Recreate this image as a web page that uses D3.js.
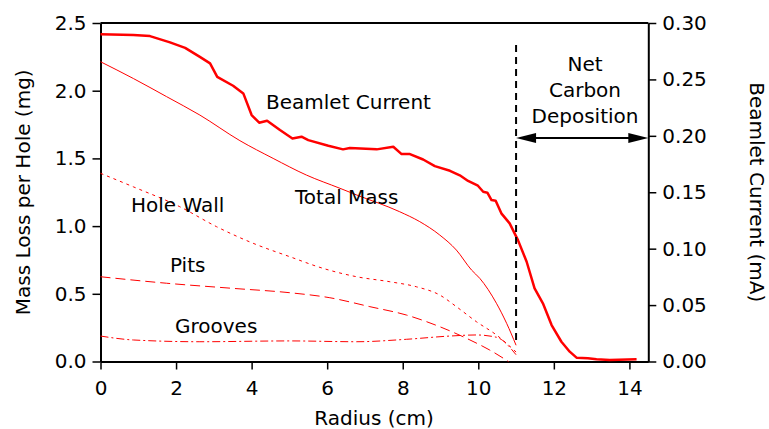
<!DOCTYPE html>
<html><head><meta charset="utf-8">
<script src="https://cdn.jsdelivr.net/npm/d3@7"></script>
<style>body{margin:0;background:#fff}svg{display:block}text{font-family:"DejaVu Sans",sans-serif;}</style>
</head><body>
<svg id="c" width="769" height="429"></svg>
<script>
// Beamlet current (mA) vs radius (cm)
const beamR = [0,0.87,1.31,1.84,2.24,2.63,2.90,3.09,3.51,3.78,4.0,4.2,4.41,4.75,5.08,5.32,5.50,6.03,6.42,6.60,7.31,7.75,7.97,8.19,8.54,8.85,9.25,9.51,9.73,9.99,10.13,10.24,10.35,10.46,10.61,10.83,11.05,11.28,11.49,11.71,11.94,12.2,12.42,12.6,12.9,13.13,13.48,14.19];
const beamI = [0.290,0.2893,0.2884,0.2828,0.278,0.270,0.2642,0.2523,0.2444,0.2376,0.2184,0.2116,0.2134,0.2051,0.1977,0.1992,0.1962,0.1912,0.188,0.1892,0.188,0.1903,0.1838,0.1838,0.179,0.1732,0.169,0.165,0.160,0.1558,0.1504,0.1496,0.1431,0.1425,0.1313,0.1224,0.1076,0.0884,0.0648,0.0516,0.0323,0.0175,0.0087,0.0034,0.0028,0.002,0.0013,0.002];
// Total mass (mg)
const totalR = [0,0.87,1.75,2.63,3.69,4.57,5.45,6.34,6.78,7.92,8.45,8.98,9.42,9.82,10.04,10.48,10.75,11.0];
const totalM = [2.214,2.09,1.956,1.82,1.631,1.50,1.377,1.279,1.23,1.106,1.033,0.934,0.823,0.676,0.614,0.43,0.282,0.12];
// Hole wall (mg)
const wallR = [0,0.87,2.10,3.07,4.04,5.01,5.89,6.78,7.66,8.36,8.98,9.42,9.95,10.48,11.0];
const wallM = [1.39,1.29,1.143,0.996,0.873,0.774,0.688,0.626,0.589,0.552,0.491,0.405,0.294,0.196,0.07];
// Pits (mg)
const pitsR = [0,1.75,3.51,5.01,6.07,7.13,8.1,8.98,9.78,10.3,10.8];
const pitsM = [0.626,0.578,0.54,0.508,0.471,0.405,0.343,0.257,0.159,0.085,0.0];
// Grooves (mg)
const grooveR = [0,0.87,2.63,5.01,6.78,8.1,9.25,9.95,10.48,11.0];
const grooveM = [0.188,0.159,0.146,0.152,0.146,0.164,0.188,0.196,0.179,0.05];

const leftTicks = [0,0.5,1.0,1.5,2.0,2.5];
const rightTicks = [0,0.05,0.10,0.15,0.20,0.25,0.30];
const xTicks = [0,2,4,6,8,10,12,14];
const depositionR = 11.0;

const svg = d3.select("#c");
const L = 100.5, R = 648.3, T = 23, B = 361.5;
const x = d3.scaleLinear().domain([0,14.5]).range([L,R]);
const yL = d3.scaleLinear().domain([0,2.5]).range([B,T]);
const yR = d3.scaleLinear().domain([0,0.30]).range([B,T]);
const fs = 20;

// frame top
svg.append("line").attr("x1",L).attr("x2",R).attr("y1",T).attr("y2",T).attr("stroke","#000").attr("stroke-width",2);

function styleAxis(g){
  g.select(".domain").attr("stroke","#000").attr("stroke-width",2);
  g.selectAll(".tick line").attr("stroke","#000").attr("stroke-width",1.5);
  g.selectAll(".tick text").attr("font-family","DejaVu Sans").attr("font-size",fs).attr("fill","#000");
}
const gx = svg.append("g").attr("transform",`translate(0,${B})`)
  .call(d3.axisBottom(x).tickValues(xTicks).tickFormat(d3.format("d")).tickSize(8).tickSizeOuter(0).tickPadding(11));
styleAxis(gx);
const gl = svg.append("g").attr("transform",`translate(${L},0)`)
  .call(d3.axisLeft(yL).tickValues(leftTicks).tickFormat(d3.format(".1f")).tickSize(8).tickSizeOuter(0).tickPadding(6));
styleAxis(gl);
const gr = svg.append("g").attr("transform",`translate(${R},0)`)
  .call(d3.axisRight(yR).tickValues(rightTicks).tickFormat(d3.format(".2f")).tickSize(8).tickSizeOuter(0).tickPadding(6));
styleAxis(gr);

// axis titles
svg.append("text").attr("x",374).attr("y",425).attr("text-anchor","middle").attr("font-size",fs).text("Radius (cm)");
svg.append("text").attr("transform",`translate(30,${(T+B)/2}) rotate(-90)`).attr("text-anchor","middle").attr("font-size",fs).text("Mass Loss per Hole (mg)");
svg.append("text").attr("transform",`translate(750,${(T+B)/2}) rotate(90)`).attr("text-anchor","middle").attr("font-size",fs).text("Beamlet Current (mA)");

// lines
const lineM = d3.line().x(d=>x(d[0])).y(d=>yL(d[1])).curve(d3.curveMonotoneX);
const zip = (a,b)=>a.map((v,i)=>[v,b[i]]);
svg.append("path").attr("d",lineM(zip(totalR,totalM))).attr("fill","none").attr("stroke","#f00").attr("stroke-width",1);
svg.append("path").attr("d",lineM(zip(wallR,wallM))).attr("fill","none").attr("stroke","#f00").attr("stroke-width",1).attr("stroke-dasharray","3,4");
svg.append("path").attr("d",lineM(zip(pitsR,pitsM))).attr("fill","none").attr("stroke","#f00").attr("stroke-width",1).attr("stroke-dasharray","10,5");
svg.append("path").attr("d",lineM(zip(grooveR,grooveM))).attr("fill","none").attr("stroke","#f00").attr("stroke-width",1).attr("stroke-dasharray","8,3,2,3");
const lineB = d3.line().x(d=>x(d[0])).y(d=>yR(d[1]));
svg.append("path").attr("d",lineB(zip(beamR,beamI))).attr("fill","none").attr("stroke","#f00").attr("stroke-width",2.5).attr("stroke-linejoin","round");

// deposition marker
const xd = x(depositionR);
svg.append("line").attr("x1",xd).attr("x2",xd).attr("y1",45).attr("y2",yL(0.15)).attr("stroke","#000").attr("stroke-width",2).attr("stroke-dasharray","7,5");
const ya = 138;
svg.append("line").attr("x1",xd+10).attr("x2",R-10).attr("y1",ya).attr("y2",ya).attr("stroke","#000").attr("stroke-width",2);
svg.append("path").attr("d",`M${xd},${ya} L${xd+20},${ya-5} L${xd+20},${ya+5} Z`).attr("fill","#000");
svg.append("path").attr("d",`M${R},${ya} L${R-20},${ya-5} L${R-20},${ya+5} Z`).attr("fill","#000");

// labels
const lab = (t,xx,yy,anchor)=>svg.append("text").attr("x",xx).attr("y",yy).attr("font-size",fs).attr("text-anchor",anchor||"start").text(t);
lab("Beamlet Current",266,109);
lab("Total Mass",295,204);
lab("Hole Wall",131,211.5);
lab("Pits",170,272);
lab("Grooves",175,333);
lab("Net",585,71,"middle");
lab("Carbon",585,97,"middle");
lab("Deposition",585,123,"middle");
</script>
</body></html>
